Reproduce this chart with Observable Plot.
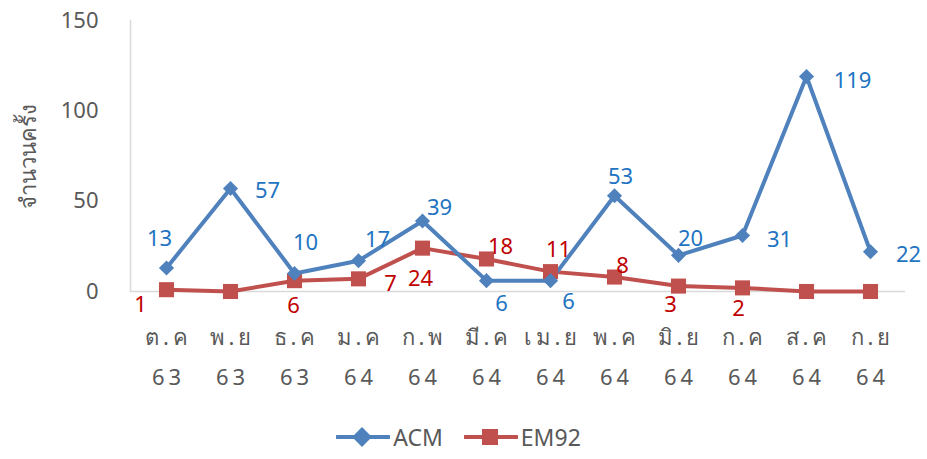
<!DOCTYPE html>
<html>
<head>
<meta charset="utf-8">
<script src="https://cdn.jsdelivr.net/npm/d3@7"></script>
<script src="https://cdn.jsdelivr.net/npm/@observablehq/plot@0.6"></script>
<style>
  html, body { margin: 0; padding: 0; background: #fff; }
  body { width: 927px; height: 459px; overflow: hidden; font-family: "Noto Sans", "DejaVu Sans", sans-serif; }
  #legend { display: flex; justify-content: center; align-items: center; height: 44px; gap: 21px; font-size: 23px; color: #595959; padding-right: 10px; }
  #legend .item { display: flex; align-items: center; gap: 3px; }
  #chart g[aria-label="x-axis tick label"] text { letter-spacing: 4px; }
</style>
</head>
<body>
<div id="chart"></div>
<div id="legend"></div>
<script>
// ---- data ----
const months = ["ต.ค", "พ.ย", "ธ.ค", "ม.ค", "ก.พ", "มี.ค", "เม.ย", "พ.ค", "มิ.ย", "ก.ค", "ส.ค", "ก.ย"];
const years  = ["63", "63", "63", "64", "64", "64", "64", "64", "64", "64", "64", "64"];
const acm    = [13, 57, 10, 17, 39, 6, 6, 53, 20, 31, 119, 22];
const em92   = [1, 0, 6, 7, 24, 18, 11, 8, 3, 2, 0, 0];
const yTicks = [0, 50, 100, 150];
const seriesNames = ["ACM", "EM92"];
const yLabel = "จำนวนครั้ง";

// ---- styling / layout ----
const blue = "#4F81BD", red = "#C0504D";
const blueText = "#1F74C2", redText = "#C00000";
const grey = "#595959";
// label offsets (px) relative to each point, like the Excel label placement
const acmOff  = [[-7,-29],[37,2],[11,-30],[19,-21],[17,-13],[15,23],[18,21],[6,-19],[12,-16],[37,4],[46,4],[38,3]];
const em92Off = [[-26,15],[0,0],[-1,25],[32,5],[-2,31],[14,-12],[8,-22],[8,-11],[-8,19],[-4,21],[0,0],[0,0]];

const rowsA = months.map((m, i) => ({m, v: acm[i], i}));
const rowsE = months.map((m, i) => ({m, v: em92[i], i}));

const font = "'Noto Sans', 'DejaVu Sans', sans-serif";

const labelMarks = [];
rowsA.forEach((d, i) => labelMarks.push(Plot.text([d], {x: "m", y: "v", text: d => String(d.v), dx: acmOff[i][0], dy: acmOff[i][1], fill: blueText, fontSize: 22})));
rowsE.forEach((d, i) => { if (d.v > 0) labelMarks.push(Plot.text([d], {x: "m", y: "v", text: d => String(d.v), dx: em92Off[i][0], dy: em92Off[i][1], fill: redText, fontSize: 22})); });

const chart = Plot.plot({
  width: 927,
  height: 415,
  marginLeft: 130,
  marginRight: 22,
  marginTop: 20,
  marginBottom: 124,
  style: {fontFamily: font, background: "#fff", overflow: "visible"},
  x: {type: "point", domain: months, padding: 0.5},
  y: {domain: [0, 150]},
  marks: [
    Plot.ruleY([0], {stroke: "#d9d9d9", strokeWidth: 1.5}),
    Plot.frame({anchor: "left", stroke: "#d9d9d9", strokeWidth: 1.5}),
    Plot.axisY({ticks: yTicks, tickSize: 0, tickPadding: 32, fontSize: 22, fill: grey, label: null}),
    Plot.axisX({tickSize: 0, tickPadding: 24, dx: 2, fontSize: 22, fill: grey, lineHeight: 1.86, label: null,
                tickFormat: m => m + "\n" + years[months.indexOf(m)]}),
    Plot.text([yLabel], {frameAnchor: "left", rotate: -90, textAnchor: "middle", dx: -102, fontSize: 22, fill: grey}),
    Plot.line(rowsE, {x: "m", y: "v", stroke: red, strokeWidth: 4}),
    Plot.line(rowsA, {x: "m", y: "v", stroke: blue, strokeWidth: 4}),
    Plot.dot(rowsE, {x: "m", y: "v", symbol: "square", r: 8.5, fill: red}),
    Plot.dot(rowsA, {x: "m", y: "v", symbol: "diamond2", r: 6.8, fill: blue}),
    ...labelMarks
  ]
});
document.getElementById("chart").appendChild(chart);

// legend
const legend = document.getElementById("legend");
const sw = (color, shape) => {
  const marker = shape === "diamond"
    ? `<rect x="19" y="3" width="14" height="14" fill="${color}" transform="rotate(45 26 10)"/>`
    : `<rect x="18" y="2" width="16" height="16" fill="${color}"/>`;
  return `<svg width="54" height="20"><line x1="1" y1="10" x2="53" y2="10" stroke="${color}" stroke-width="4" stroke-linecap="round"/>${marker}</svg>`;
};
legend.innerHTML = `<span class="item">${sw(blue, "diamond")}<span>${seriesNames[0]}</span></span>` +
                   `<span class="item">${sw(red, "square")}<span>${seriesNames[1]}</span></span>`;
</script>
</body>
</html>
